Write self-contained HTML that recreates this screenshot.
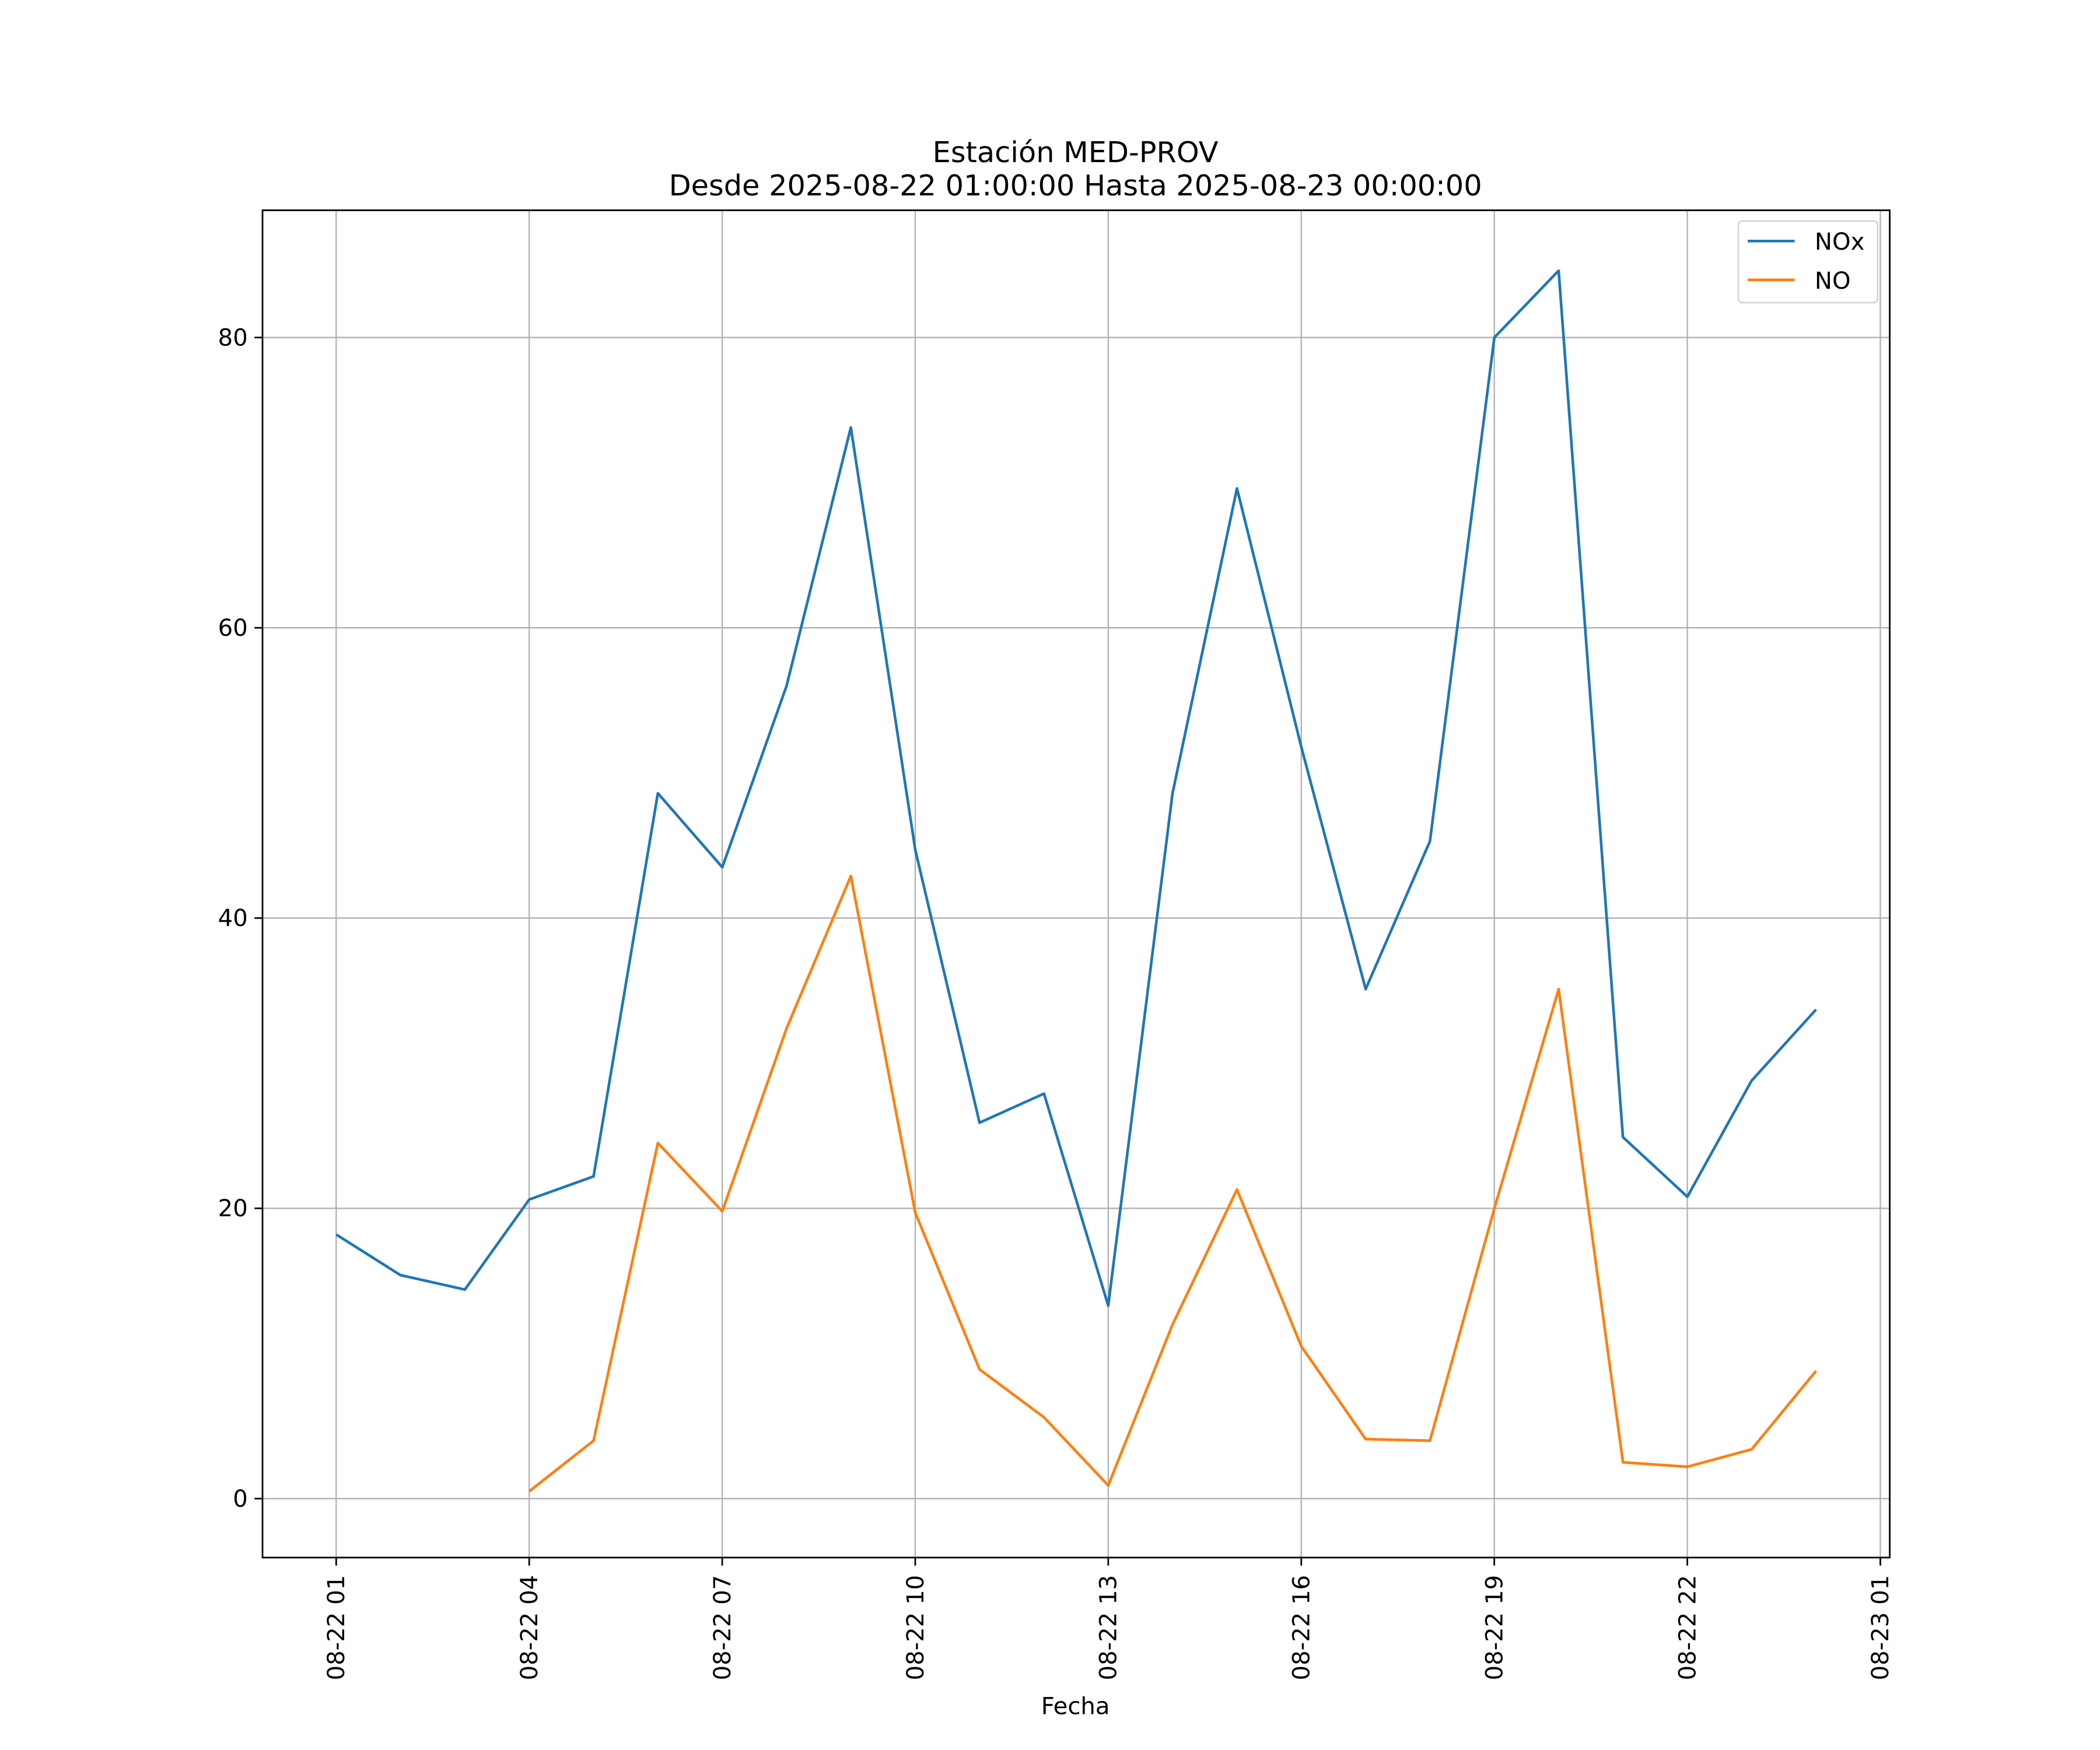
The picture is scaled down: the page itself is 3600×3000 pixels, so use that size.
<!DOCTYPE html>
<html><head><meta charset="utf-8"><style>
html,body{margin:0;padding:0;background:#fff;}
svg{display:block;}
text{font-family:"DejaVu Sans","Liberation Sans",sans-serif;fill:#000;}
</style></head><body>
<svg id="chart" width="3600" height="3000" viewBox="0 0 1568 1306.7" xmlns="http://www.w3.org/2000/svg">
<rect width="1568" height="1307" fill="#fff"/>
<g id="grid"></g>
<g id="series"></g>
<rect x="196" y="157" width="1215" height="1006" fill="none" stroke="#000" stroke-width="1.2"/>
<g id="axes"></g>
<text x="803" y="121" font-size="21.5" text-anchor="middle">Estación MED-PROV</text>
<text x="803" y="146" font-size="21.5" text-anchor="middle">Desde 2025-08-22 01:00:00 Hasta 2025-08-23 00:00:00</text>
<text x="803" y="1280" font-size="17.5" text-anchor="middle">Fecha</text>
<g>
<rect x="1298" y="165" width="104" height="61" rx="3" fill="#fff" fill-opacity="0.8" stroke="#d6d6d6" stroke-width="1.2"/>
<line x1="1305" y1="180" x2="1340" y2="180" stroke="#1f77b4" stroke-width="2"/>
<text x="1355" y="186.5" font-size="17.5">NOx</text>
<line x1="1305" y1="209" x2="1340" y2="209" stroke="#ff7f0e" stroke-width="2"/>
<text x="1355" y="215.5" font-size="17.5">NO</text>
</g>
</svg>
<script>
const hours = [1,2,3,4,5,6,7,8,9,10,11,12,13,14,15,16,17,18,19,20,21,22,23,24];
const noxValues = [18.2,15.4,14.4,20.6,22.2,48.6,43.5,56.0,73.8,44.7,25.9,27.9,13.3,48.6,69.6,51.8,35.1,45.3,80.0,84.6,24.9,20.8,28.8,33.7];
const noValues = [null,null,null,0.5,4.0,24.5,19.8,32.4,42.9,19.7,8.9,5.6,0.9,12.0,21.3,10.5,4.1,4.0,20.0,35.1,2.5,2.2,3.4,8.8];
const xTickHours = [1,4,7,10,13,16,19,22,25];
const xTickLabels = ["08-22 01","08-22 04","08-22 07","08-22 10","08-22 13","08-22 16","08-22 19","08-22 22","08-23 01"];
const yTicks = [0,20,40,60,80];

const NS="http://www.w3.org/2000/svg";
const L=196,R=1411,T=157,B=1163;
function xs(h){return 251+(h-1)*(1404-251)/24;}
function ys(v){return 1119-v*(1119-252)/80;}
function mk(tag,attrs,parent){const e=document.createElementNS(NS,tag);for(const k in attrs)e.setAttribute(k,attrs[k]);parent.appendChild(e);return e;}
const grid=document.getElementById('grid'),axes=document.getElementById('axes'),series=document.getElementById('series');
xTickHours.forEach((h,i)=>{
  const x=xs(h);
  const g=mk('line',{x1:x,x2:x,y1:T,y2:B,stroke:'#b0b0b0','stroke-width':1},grid);
  
  
  const t=mk('line',{x1:x,x2:x,y1:B,y2:B+6,stroke:'#000','stroke-width':1.2},axes);
  
  
  const tx=mk('text',{x:0,y:0,'font-size':17.5,'text-anchor':'end',transform:`translate(${x+6},1176) rotate(-90)`},axes);
  tx.textContent=xTickLabels[i];
  
  
});
yTicks.forEach(v=>{
  const y=ys(v);
  const g=mk('line',{x1:L,x2:R,y1:y,y2:y,stroke:'#b0b0b0','stroke-width':1},grid);
  
  
  const t=mk('line',{x1:L-6,x2:L,y1:y,y2:y,stroke:'#000','stroke-width':1.2},axes);
  
  
  const tx=mk('text',{x:L-11,y:y+6,'font-size':17.5,'text-anchor':'end'},axes);
  tx.textContent=String(v);
  
  
});
function path(vals){let d='',pen=false;vals.forEach((v,i)=>{if(v===null){pen=false;return;}d+=(pen?'L':'M')+xs(hours[i]).toFixed(1)+','+ys(v).toFixed(1);pen=true;});return d;}
const p1=mk('path',{d:path(noxValues),fill:'none',stroke:'#1f77b4','stroke-width':2,'stroke-linejoin':'round'},series);


const p2=mk('path',{d:path(noValues),fill:'none',stroke:'#ff7f0e','stroke-width':2,'stroke-linejoin':'round'},series);


</script>
</body></html>
